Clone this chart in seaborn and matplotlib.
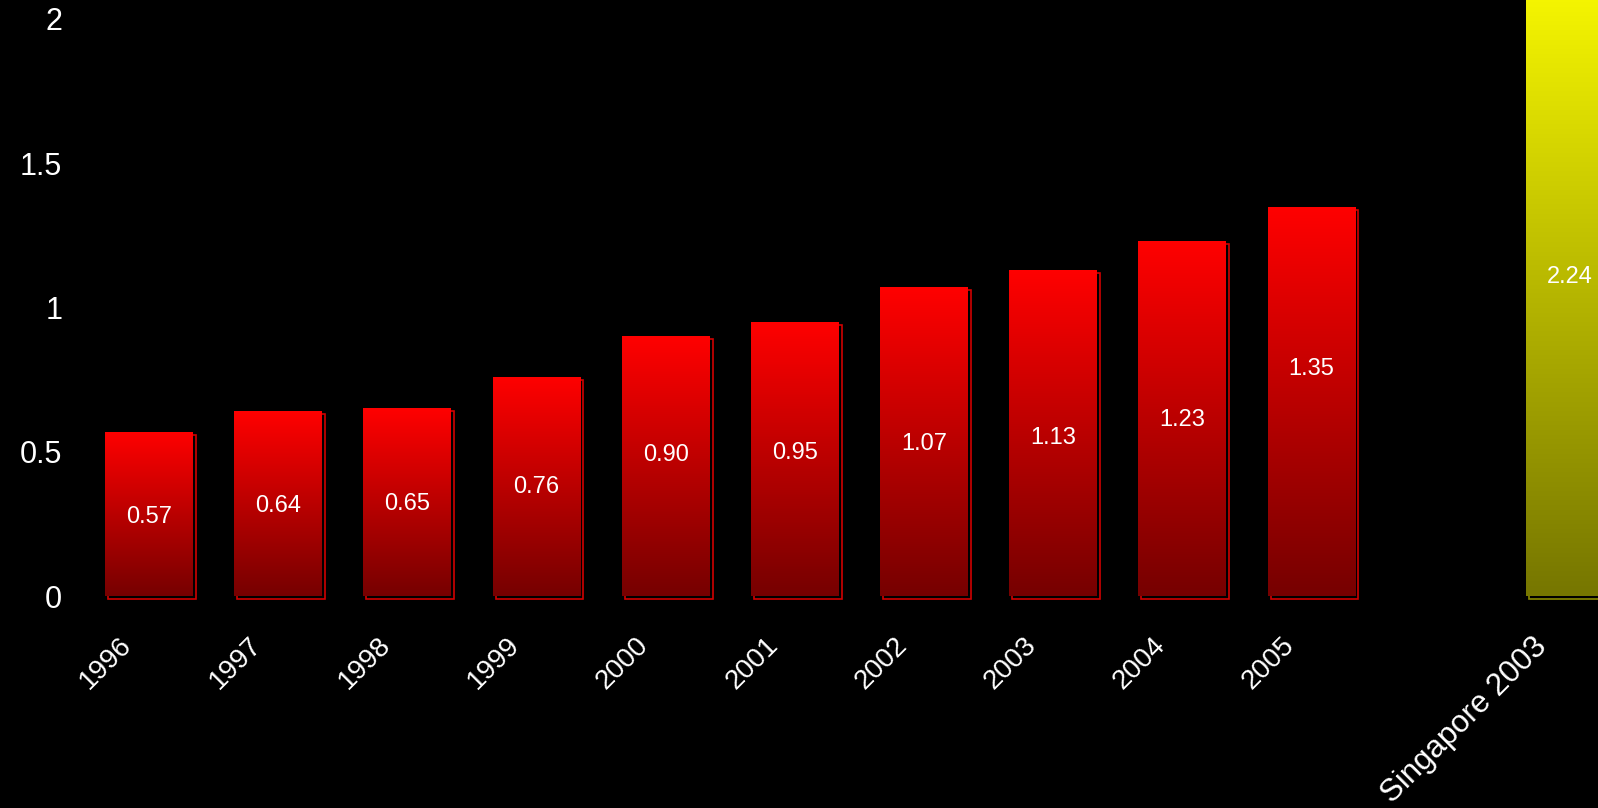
import numpy as np
import pandas as pd
import matplotlib
matplotlib.use("Agg")
import matplotlib.pyplot as plt
import matplotlib.transforms as mtransforms
from matplotlib import font_manager
from matplotlib.patches import Rectangle
from matplotlib.colors import LinearSegmentedColormap
import seaborn as sns

# ---- data ----
categories = ["1996", "1997", "1998", "1999", "2000", "2001", "2002",
              "2003", "2004", "2005", " ", "Singapore 2003"]
values = [0.57, 0.64, 0.65, 0.76, 0.90, 0.95, 1.07, 1.13, 1.23, 1.35, np.nan, 2.24]
labels = ["0.57", "0.64", "0.65", "0.76", "0.90", "0.95", "1.07", "1.13",
          "1.23", "1.35", "", "2.24"]
label_y = [0.281, 0.319, 0.329, 0.385, 0.497, 0.503, 0.535, 0.558,
           0.617, 0.795, np.nan, 1.116]
yticks = [0, 0.5, 1, 1.5, 2]
ytick_labels = ["0", "0.5", "1", "1.5", "2"]

df = pd.DataFrame({"cat": categories, "val": values})

sns.set_theme(style="dark")

fam = "Liberation Sans"
for f in font_manager.fontManager.ttflist:
    if f.name == "Liberation Sans" and "Narrow" not in f.fname \
            and f.style == "normal" and f.weight in (400, "normal", "regular"):
        fam = f.name
        break
plt.rcParams["font.family"] = [fam, "DejaVu Sans"]
plt.rcParams["font.stretch"] = "normal"

fig = plt.figure(figsize=(15.98, 8.08), dpi=100, facecolor="black")
ax = fig.add_axes([84.4 / 1598, 212 / 808, 1550 / 1598, 577 / 808])
ax.set_facecolor("black")

sns.barplot(data=df, x="cat", y="val", order=categories, color="red",
            width=0.68, ax=ax, saturation=1, zorder=3)

red_cmap = LinearSegmentedColormap.from_list("r", ["#760000", "#ff0000"])
yel_cmap = LinearSegmentedColormap.from_list("y", ["#767600", "#ffff00"])
grad = np.linspace(0, 1, 256).reshape(-1, 1)

shadow_off = mtransforms.ScaledTranslation(3 / 100, -3 / 100, fig.dpi_scale_trans)

for p in list(ax.patches):
    x0, y0 = p.get_x(), p.get_y()
    w, h = p.get_width(), p.get_height()
    if not np.isfinite(h) or h == 0:
        continue
    is_sg = x0 > 10.5
    cmap = yel_cmap if is_sg else red_cmap
    edge = "#8a8a00" if is_sg else "#d00000"
    p.set_facecolor("none")
    p.set_edgecolor("none")
    sh = Rectangle((x0, y0), w, h, facecolor="black", edgecolor=edge,
                   linewidth=1.2, transform=ax.transData + shadow_off,
                   zorder=1, clip_on=False)
    ax.add_patch(sh)
    im = ax.imshow(grad, cmap=cmap, aspect="auto", origin="lower",
                   extent=[x0, x0 + w, y0, y0 + h], zorder=2)
    im.set_clip_path(p)

ax.set_xlim(-0.5, len(categories) - 0.5)
ax.set_ylim(0, 2)

# value labels
for i, (lab, ly) in enumerate(zip(labels, label_y)):
    if not lab:
        continue
    ax.text(i, ly, lab, ha="center", va="center_baseline", color="white",
            fontsize=17, zorder=5)

ax.set_yticks(yticks)
ax.set_yticklabels(ytick_labels)
ax.tick_params(axis="y", colors="white", labelsize=22, length=0, pad=16)
ax.tick_params(axis="x", colors="white", labelsize=20, length=0, pad=0)
for lab in ax.get_xticklabels():
    lab.set_rotation(45)
    lab.set_ha("right")
    lab.set_va("top")
    lab.set_rotation_mode("anchor")
    dx = -30
    if lab.get_text() == "Singapore 2003":
        lab.set_fontsize(22.5)
        dx = -38
    off = mtransforms.ScaledTranslation(dx / 100, -36 / 100, fig.dpi_scale_trans)
    lab.set_transform(lab.get_transform() + off)
for lab in ax.get_yticklabels():
    lab.set_color("white")

ax.set_xlabel("")
ax.set_ylabel("")
ax.grid(False)
for s in ax.spines.values():
    s.set_visible(False)

fig.savefig("out.png", dpi=100, facecolor="black")
